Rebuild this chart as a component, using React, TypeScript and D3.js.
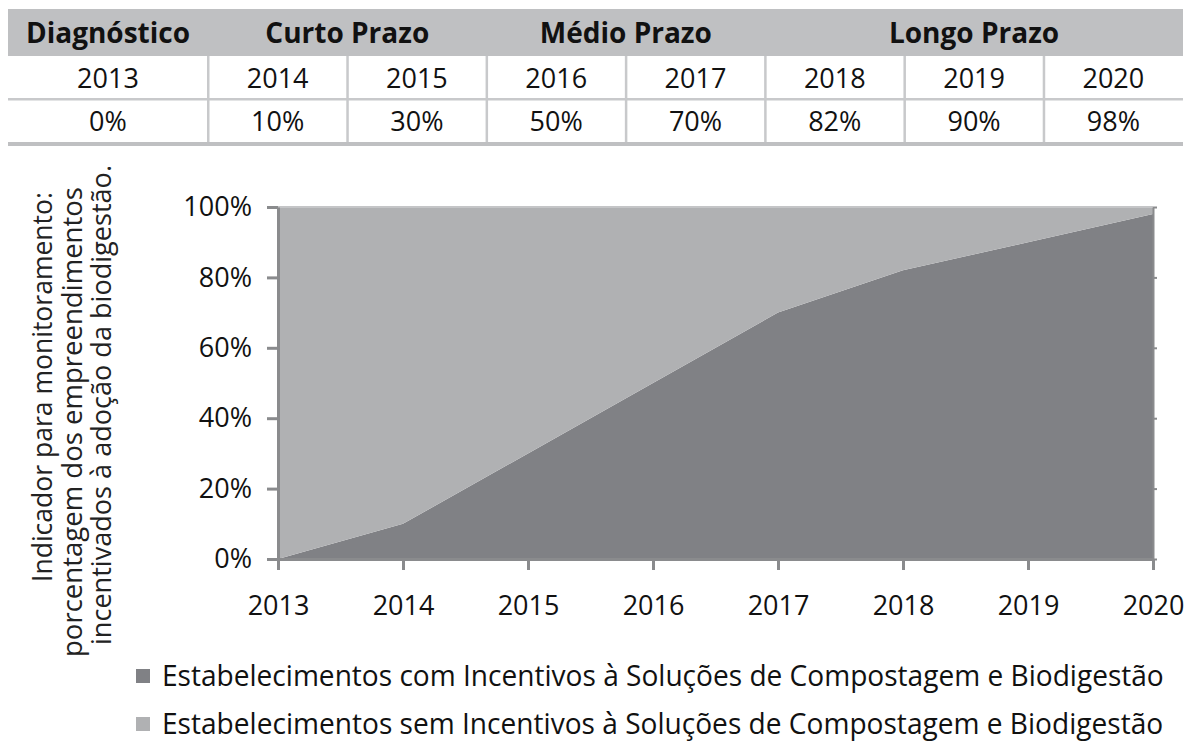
import React, { useEffect, useRef } from 'react';
import * as d3 from 'd3';

// values
const years = [2013, 2014, 2015, 2016, 2017, 2018, 2019, 2020];
const withIncentive = [0, 10, 30, 50, 70, 82, 90, 98];
const phases = [
    { label: 'Diagnóstico', from: 0, to: 0 },
    { label: 'Curto Prazo', from: 1, to: 2 },
    { label: 'Médio Prazo', from: 3, to: 4 },
    { label: 'Longo Prazo', from: 5, to: 7 },
];
const yTicks = [0, 20, 40, 60, 80, 100];
const yTitleLines = [
    'Indicador para monitoramento:',
    'porcentagem  dos empreendimentos',
    'incentivados à adoção da biodigestão.',
];
const legendLabels = [
    'Estabelecimentos com Incentivos à Soluções de Compostagem e Biodigestão',
    'Estabelecimentos sem Incentivos à Soluções de Compostagem e Biodigestão',
];

const DARK = '#808185';
const LIGHT = '#b0b1b3';
const AXIS = '#8a8b8d';
const FONT = '"Open Sans", "Noto Sans", sans-serif';

const App = () => {
    const svgRef = useRef(null);

    useEffect(() => {
        document.body.style.margin = '0';
        const W = 1191, H = 742;
        const svg = d3.select(svgRef.current);
        svg.selectAll('*').remove();
        svg.attr('width', W).attr('height', H);

        // ---------- table ----------
        const tbl = svg.append('g');
        const firstW = 200;
        const colX = d3.scaleLinear().domain([1, 8]).range([8 + firstW, 1183]);
        const left = (i) => (i === 0 ? 8 : colX(i));
        const right = (i) => colX(i + 1);
        const rows = { headTop: 9, headBot: 56, mid: 99, bot: 142 };

        tbl.append('rect')
            .attr('x', 8).attr('y', rows.headTop)
            .attr('width', 1183 - 8).attr('height', rows.headBot - rows.headTop)
            .attr('fill', '#bfc0c2');

        tbl.append('rect')
            .attr('x', 8).attr('y', rows.bot)
            .attr('width', 1183 - 8).attr('height', 4)
            .attr('fill', '#bfc0c2');

        tbl.append('rect')
            .attr('x', 8).attr('y', rows.mid - 1)
            .attr('width', 1183 - 8).attr('height', 2.5)
            .attr('fill', '#c8c9cb');

        d3.range(1, 8).forEach(i => {
            tbl.append('rect')
                .attr('x', colX(i) - 1).attr('y', rows.headBot)
                .attr('width', 2.5).attr('height', rows.bot - rows.headBot)
                .attr('fill', '#c8c9cb');
        });

        tbl.selectAll('text.phase')
            .data(phases)
            .enter().append('text')
            .attr('x', d => (left(d.from) + right(d.to)) / 2)
            .attr('y', 43)
            .attr('text-anchor', 'middle')
            .style('font-family', FONT)
            .style('font-weight', 700)
            .style('font-size', '28px')
            .attr('fill', '#111')
            .text(d => d.label);

        tbl.selectAll('text.year')
            .data(years)
            .enter().append('text')
            .attr('x', (d, i) => (left(i) + right(i)) / 2)
            .attr('y', 88)
            .attr('text-anchor', 'middle')
            .style('font-family', FONT)
            .style('font-size', '27px')
            .attr('fill', '#111')
            .text(d => d);

        tbl.selectAll('text.val')
            .data(withIncentive)
            .enter().append('text')
            .attr('x', (d, i) => (left(i) + right(i)) / 2)
            .attr('y', 131)
            .attr('text-anchor', 'middle')
            .style('font-family', FONT)
            .style('font-size', '27px')
            .attr('fill', '#111')
            .text(d => d + '%');

        // ---------- chart ----------
        const x = d3.scaleLinear().domain([2013, 2020]).range([278, 1153]);
        const y = d3.scaleLinear().domain([0, 100]).range([559, 207]);

        const rowsData = years.map((yr, i) => ({ year: yr, com: withIncentive[i], sem: 100 - withIncentive[i] }));
        const stacked = d3.stack().keys(['com', 'sem'])(rowsData);
        const area = d3.area()
            .x(d => x(d.data.year))
            .y0(d => y(d[0]))
            .y1(d => y(d[1]));

        const g = svg.append('g');
        g.selectAll('path.layer')
            .data(stacked)
            .enter().append('path')
            .attr('d', area)
            .attr('fill', (d, i) => (i === 0 ? DARK : LIGHT));

        // top edge
        g.append('line')
            .attr('x1', x(2013)).attr('x2', x(2020))
            .attr('y1', y(100)).attr('y2', y(100))
            .attr('stroke', '#c4c5c7').attr('stroke-width', 2);

        const styleAxis = (sel) => {
            sel.select('.domain').attr('stroke', AXIS).attr('stroke-width', 3);
            sel.selectAll('.tick line').attr('stroke', AXIS).attr('stroke-width', 3);
            sel.selectAll('.tick text')
                .attr('fill', '#111')
                .style('font-family', FONT)
                .style('font-size', '27px');
        };

        // right side frame with small ticks
        const yr = g.append('g')
            .attr('transform', `translate(${x(2020)},0)`)
            .call(d3.axisRight(y).tickValues(yTicks).tickSize(4).tickSizeOuter(0).tickFormat(() => ''));
        yr.select('.domain').attr('stroke', AXIS).attr('stroke-width', 2);
        yr.selectAll('.tick line').attr('stroke', AXIS).attr('stroke-width', 2);

        g.append('g')
            .attr('transform', `translate(${x(2013)},0)`)
            .call(d3.axisLeft(y).tickValues(yTicks).tickSize(11).tickSizeOuter(0).tickPadding(15).tickFormat(d => d + '%'))
            .call(styleAxis);

        g.append('g')
            .attr('transform', `translate(0,${y(0)})`)
            .call(d3.axisBottom(x).tickValues(years).tickSize(11).tickSizeOuter(0).tickPadding(26).tickFormat(d3.format('d')))
            .call(styleAxis);

        // y title
        const titlePos = [
            { cx: 41, cy: 387, len: 390 },
            { cx: 71, cy: 422, len: 470 },
            { cx: 100, cy: 405, len: 480 },
        ];
        yTitleLines.forEach((t, i) => {
            const p = titlePos[i];
            svg.append('text')
                .attr('transform', `translate(${p.cx},${p.cy}) rotate(-90)`)
                .attr('text-anchor', 'middle')
                .attr('dominant-baseline', 'central')
                .attr('textLength', p.len)
                .attr('lengthAdjust', 'spacingAndGlyphs')
                .style('font-family', FONT)
                .style('font-size', '27px')
                .attr('fill', '#222')
                .text(t);
        });

        // legend (condensed face imitated by a horizontal scale)
        const lg = svg.append('g');
        legendLabels.forEach((t, i) => {
            const ly = 676 + i * 48;
            lg.append('rect')
                .attr('x', 136).attr('y', ly - 7)
                .attr('width', 14).attr('height', 14)
                .attr('fill', i === 0 ? DARK : LIGHT);
            const txt = lg.append('text')
                .attr('x', 0).attr('y', 0)
                .style('font-family', FONT)
                .style('font-size', '30px')
                .attr('fill', '#111')
                .text(t);
            const natural = txt.node().getComputedTextLength() || 1100;
            const sx = 1002 / natural;
            txt.attr('transform', `translate(162,${ly + 10}) scale(${sx},1)`);
        });
    }, []);

    return <svg ref={svgRef} style={{ display: 'block' }}></svg>;
};

export default App;
